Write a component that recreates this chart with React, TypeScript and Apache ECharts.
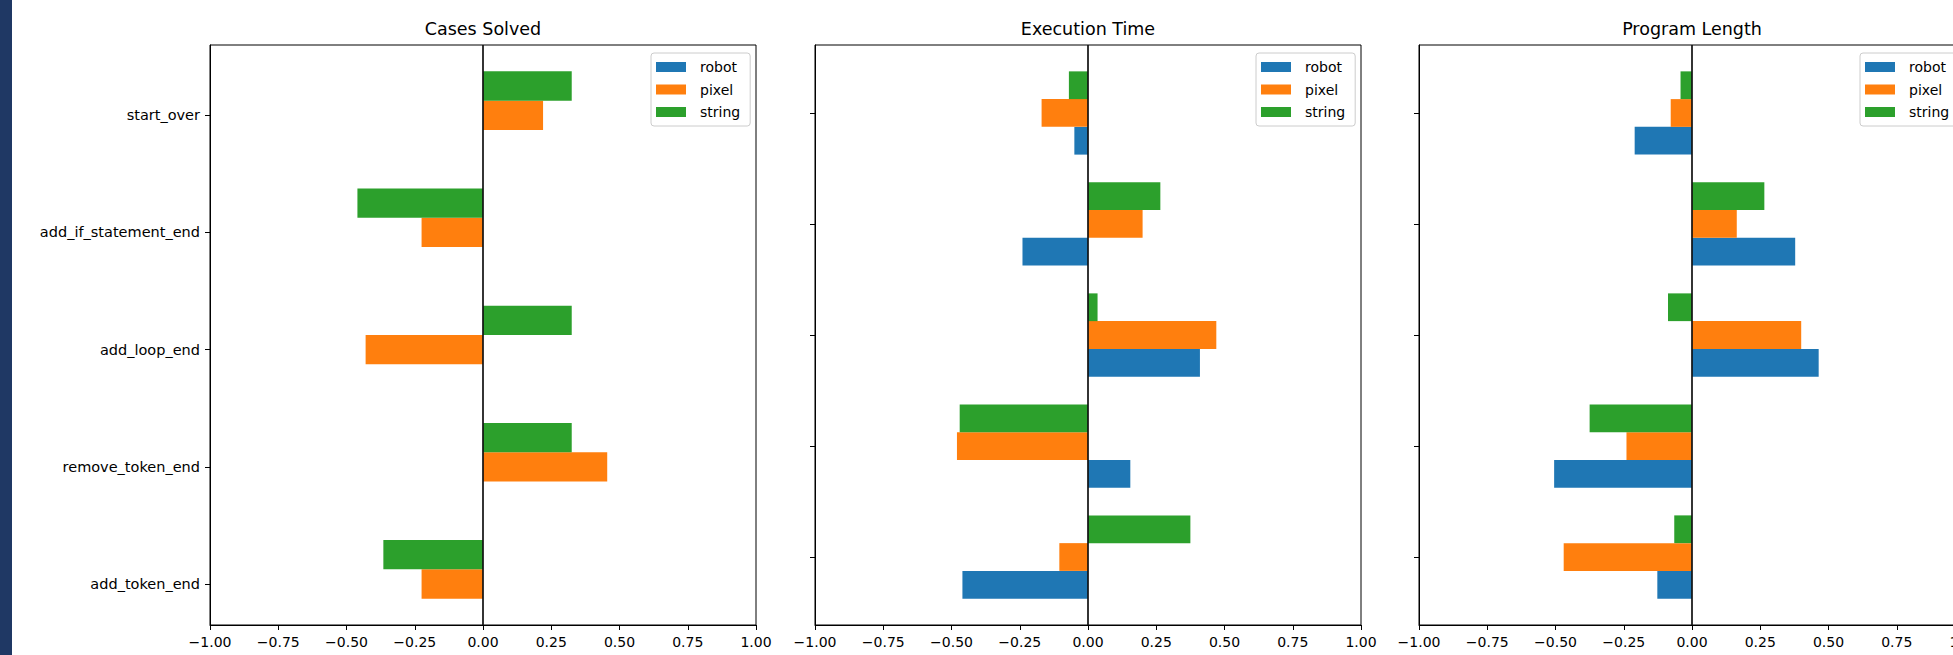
import React, { useEffect, useRef } from 'react';
import * as echarts from 'echarts';

// Categories as listed from top to bottom in the picture
const categories = ['start_over', 'add_if_statement_end', 'add_loop_end', 'remove_token_end', 'add_token_end'];
const seriesNames = ['robot', 'pixel', 'string'];
const seriesColors = ['#1f77b4', '#ff7f0e', '#2ca02c'];
const panelTitles = ['Cases Solved', 'Execution Time', 'Program Length'];

// Cases Solved (robot has no bars)
const casesRobot: (number | null)[] = [null, null, null, null, null];
const casesPixel = [0.22, -0.225, -0.43, 0.455, -0.225];
const casesString = [0.325, -0.46, 0.325, 0.325, -0.365];

// Execution Time
const timeRobot = [-0.05, -0.24, 0.41, 0.155, -0.46];
const timePixel = [-0.17, 0.2, 0.47, -0.48, -0.105];
const timeString = [-0.07, 0.265, 0.035, -0.47, 0.375];

// Program Length
const lengthRobot = [-0.21, 0.378, 0.464, -0.505, -0.127];
const lengthPixel = [-0.078, 0.164, 0.4, -0.24, -0.47];
const lengthString = [-0.042, 0.265, -0.088, -0.375, -0.065];

const panelData: (number | null)[][][] = [
  [casesRobot, casesPixel, casesString],
  [timeRobot, timePixel, timeString],
  [lengthRobot, lengthPixel, lengthString],
];

const FONT = 'DejaVu Sans';
const BAR_H = 0.25;
const OFFSETS = [-0.25, 0, 0.25];
const PANEL_LEFT = [210, 815, 1419];
const PANEL_W = 546;
const PANEL_TOP = 45;
const PANEL_H = 580;

const fmtTick = (v: number) => (v < 0 ? '\u2212' : '') + Math.abs(v).toFixed(2);

export default function App() {
  const ref = useRef<HTMLDivElement>(null);

  useEffect(() => {
    if (!ref.current) return;
    const chart = echarts.init(ref.current, null, { renderer: 'svg' });
    const n = categories.length;
    const pos = (i: number) => n - 1 - i;
    const catAt = (v: number) => categories[n - 1 - Math.round(v)];
    const tickVals = categories.map((_, i) => i);

    const grids: any[] = [];
    const xAxes: any[] = [];
    const yAxes: any[] = [];
    const series: any[] = [];
    const titles: any[] = [];
    const legends: any[] = [];

    panelData.forEach((panel, p) => {
      // y extents like matplotlib autoscale with 5% margins
      const present = panel.map((vals) => vals.some((v) => v != null));
      const offs = OFFSETS.filter((_, s) => present[s]);
      const lo = Math.min(...offs) - BAR_H / 2;
      const hi = n - 1 + Math.max(...offs) + BAR_H / 2;
      const m = (hi - lo) * 0.05;
      const yMin = lo - m;
      const yMax = hi + m;

      grids.push({
        left: PANEL_LEFT[p], top: PANEL_TOP, width: PANEL_W, height: PANEL_H,
        show: true, borderColor: '#000', borderWidth: 1, backgroundColor: '#fff',
        containLabel: false, outerBoundsMode: 'none',
      });
      xAxes.push({
        type: 'value', gridIndex: p, min: -1, max: 1, interval: 0.25, position: 'bottom',
        axisLine: { show: true, onZero: false, lineStyle: { color: '#000', width: 1 } },
        axisTick: { show: true, length: 5, lineStyle: { color: '#000', width: 1 } },
        axisLabel: { show: true, formatter: fmtTick, color: '#000', fontFamily: FONT, fontSize: 14, margin: 10, showMinLabel: true, showMaxLabel: true, hideOverlap: false },
        splitLine: { show: false },
      });
      yAxes.push({
        type: 'value', gridIndex: p, min: yMin, max: yMax, position: 'left',
        axisLine: { show: true, onZero: false, lineStyle: { color: '#000', width: 1 } },
        axisTick: { show: true, length: 5, customValues: tickVals, lineStyle: { color: '#000', width: 1 } },
        axisLabel: p === 0
          ? { show: true, customValues: tickVals, formatter: (v: number) => catAt(v), color: '#000', fontFamily: FONT, fontSize: 14.5, margin: 10 }
          : { show: false },
        splitLine: { show: false },
      });
      panel.forEach((vals, s) => {
        const data = vals.flatMap((v, i) => (v == null ? [] : [[v, pos(i) + OFFSETS[s]]]));
        series.push({
          type: 'custom',
          name: seriesNames[s],
          xAxisIndex: p, yAxisIndex: p,
          itemStyle: { color: seriesColors[s] },
          encode: { x: 0, y: 1 },
          clip: true,
          data,
          renderItem: (params: any, api: any) => {
            const v = api.value(0);
            const y = api.value(1);
            const a = api.coord([0, y + BAR_H / 2]);
            const b = api.coord([v, y - BAR_H / 2]);
            return {
              type: 'rect',
              shape: { x: Math.min(a[0], b[0]), y: Math.min(a[1], b[1]), width: Math.abs(b[0] - a[0]), height: Math.abs(b[1] - a[1]) },
              style: { fill: api.visual('color') },
            };
          },
        });
      });
      series.push({
        type: 'line', name: 'zero' + p, xAxisIndex: p, yAxisIndex: p,
        data: [[0, yMin], [0, yMax]], symbol: 'none', silent: true, z: 5,
        lineStyle: { color: '#111', width: 1.7 },
      });
      titles.push({
        text: panelTitles[p], left: PANEL_LEFT[p] + PANEL_W / 2, top: 20, textAlign: 'center', padding: 0,
        textStyle: { fontFamily: FONT, fontSize: 17.5, fontWeight: 'normal', color: '#000' },
      });
      legends.push({
        orient: 'vertical', left: PANEL_LEFT[p] + 441, top: 53,
        padding: [6, 10, 6, 5], itemWidth: 30, itemHeight: 10, itemGap: 6.5,
        borderColor: '#cccccc', borderWidth: 1, borderRadius: 3, backgroundColor: 'rgba(255,255,255,0.85)',
        selectedMode: false,
        textStyle: { fontFamily: FONT, fontSize: 14, color: '#000', lineHeight: 16, padding: [0, 0, 0, 9] },
        data: seriesNames.map((nm) => ({ name: nm, icon: 'rect' })),
      });
    });

    chart.setOption({
      animation: false,
      backgroundColor: '#fff',
      title: titles,
      legend: legends,
      grid: grids,
      xAxis: xAxes,
      yAxis: yAxes,
      series,
    });
    return () => chart.dispose();
  }, []);

  return (
    <div style={{ position: 'absolute', left: 0, top: 0, width: 1953, height: 655, overflow: 'hidden', background: '#fff' }}>
      <div ref={ref} style={{ position: 'absolute', left: 0, top: 0, width: 1953, height: 655 }} />
      <div style={{ position: 'absolute', left: 0, top: 0, width: 12, height: 655, background: '#1f3864' }} />
    </div>
  );
}
